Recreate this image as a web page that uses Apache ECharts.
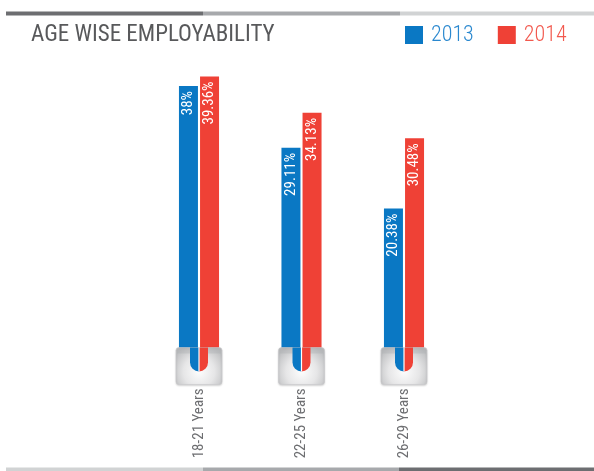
<!DOCTYPE html>
<html>
<head>
<meta charset="utf-8">
<script src="https://cdn.jsdelivr.net/npm/echarts@6/dist/echarts.min.js"></script>
<style>
  html, body { margin: 0; padding: 0; background: #ffffff; }
  #chart { width: 594px; height: 471px; }
</style>
</head>
<body>
<div id="chart"></div>
<script>
// Age groups and employability shares (%) per year
const categories = ['18-21 Years', '22-25 Years', '26-29 Years'];
const seriesNames = ['2013', '2014'];
const values2013 = [38, 29.11, 20.38];
const values2014 = [39.36, 34.13, 30.48];

const BLUE = '#0a78c4';
const RED = '#ef4136';
const FONT = '"Roboto Condensed", Roboto, sans-serif';

const chart = echarts.init(document.getElementById('chart'), null, { renderer: 'canvas' });

// Grey plinth under each age group, with a rounded notch showing both bar colours
function renderPlinth(params, api) {
  const p = api.coord([api.value(0), 0]);
  const cx = p[0];
  const y = p[1];
  const halfW = 23;
  const notch = 9;
  const top = y - 3;
  return {
    type: 'group',
    children: [
      {
        type: 'rect',
        shape: { x: cx - halfW, y: top, width: halfW * 2, height: 37, r: 3 },
        style: {
          fill: new echarts.graphic.RadialGradient(0.5, 0.65, 0.75, [
            { offset: 0, color: '#fdfdfd' },
            { offset: 0.55, color: '#e6e6e7' },
            { offset: 1, color: '#bfc0c2' }
          ]),
          stroke: '#c9cacc',
          lineWidth: 0.6,
          shadowBlur: 2,
          shadowColor: 'rgba(0,0,0,0.18)',
          shadowOffsetY: 1
        }
      },
      {
        type: 'rect',
        shape: { x: cx - halfW + 1, y: top + 1, width: halfW * 2 - 2, height: 5 },
        style: { fill: 'rgba(170,172,175,0.35)' }
      },
      {
        type: 'path',
        shape: {
          pathData: 'M' + (cx - notch) + ' ' + top +
            ' L' + (cx - notch) + ' ' + (y + 12) +
            ' A' + notch + ' ' + notch + ' 0 0 0 ' + cx + ' ' + (y + 12 + notch) +
            ' L' + cx + ' ' + top + ' Z'
        },
        style: { fill: BLUE }
      },
      {
        type: 'path',
        shape: {
          pathData: 'M' + (cx + notch) + ' ' + top +
            ' L' + (cx + notch) + ' ' + (y + 12) +
            ' A' + notch + ' ' + notch + ' 0 0 1 ' + cx + ' ' + (y + 12 + notch) +
            ' L' + cx + ' ' + top + ' Z'
        },
        style: { fill: RED }
      },
      {
        type: 'line',
        shape: { x1: cx, y1: top - 1, x2: cx, y2: y + 12 + notch },
        style: { stroke: '#ffffff', lineWidth: 1.2 }
      }
    ]
  };
}

const barLabel = {
  show: true,
  position: 'insideTop',
  rotate: 90,
  align: 'right',
  verticalAlign: 'middle',
  distance: 5,
  formatter: '{c}%',
  color: '#ffffff',
  fontFamily: FONT,
  fontSize: 15
};

chart.setOption({
  animation: false,
  title: {
    text: 'AGE WISE EMPLOYABILITY',
    left: 26,
    top: 19,
    textStyle: { fontFamily: FONT, fontSize: 23, fontWeight: 'normal', color: '#58595b' }
  },
  legend: {
    left: 400,
    top: 19,
    itemWidth: 18,
    itemHeight: 18,
    itemGap: 24,
    icon: 'rect',
    selectedMode: false,
    data: [
      { name: seriesNames[0], textStyle: { color: '#2a88cf' } },
      { name: seriesNames[1], textStyle: { color: '#f2594e' } }
    ],
    textStyle: { fontFamily: FONT, fontSize: 22, fontWeight: 300, padding: [0, 0, 0, 3] }
  },
  grid: { left: 147.75, width: 307.5, top: 72, bottom: 120.5 },
  xAxis: {
    type: 'category',
    data: categories,
    axisLine: { show: false },
    axisTick: { show: false },
    axisLabel: {
      rotate: 90,
      margin: 38,
      color: '#6d6e71',
      fontFamily: FONT,
      fontSize: 15
    }
  },
  yAxis: { type: 'value', min: 0, max: 40, show: false, splitLine: { show: false } },
  series: [
    {
      name: seriesNames[0],
      type: 'bar',
      data: values2013,
      barWidth: 19,
      barGap: '11%',
      itemStyle: { color: BLUE },
      label: barLabel
    },
    {
      name: seriesNames[1],
      type: 'bar',
      data: values2014,
      barWidth: 19,
      itemStyle: { color: RED },
      label: barLabel
    },
    {
      type: 'custom',
      renderItem: renderPlinth,
      data: categories.map((c, i) => [i]),
      z: 5,
      silent: true
    }
  ],
  graphic: [
    // three-tone rule above the heading
    { type: 'rect', shape: { x: 6, y: 11.5, width: 197, height: 4 }, style: { fill: '#6d6e71' } },
    { type: 'rect', shape: { x: 203, y: 11.5, width: 197, height: 4 }, style: { fill: '#a7a9ac' } },
    { type: 'rect', shape: { x: 400, y: 11.5, width: 194, height: 4 }, style: { fill: '#d1d3d4' } },
    // matching rule along the foot
    { type: 'rect', shape: { x: 6, y: 467.5, width: 197, height: 4 }, style: { fill: '#d1d3d4' } },
    { type: 'rect', shape: { x: 203, y: 467.5, width: 196, height: 4 }, style: { fill: '#a7a9ac' } },
    { type: 'rect', shape: { x: 399, y: 467.5, width: 195, height: 4 }, style: { fill: '#6d6e71' } }
  ]
});
</script>
</body>
</html>
